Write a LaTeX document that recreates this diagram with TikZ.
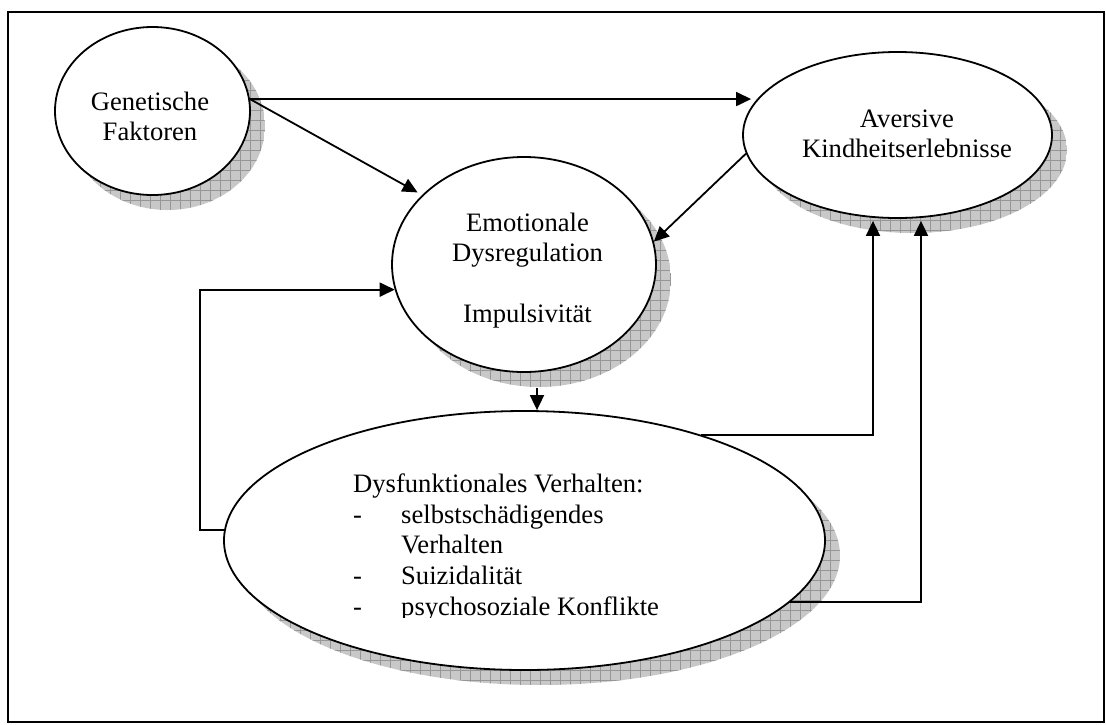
\documentclass[tikz,border=0pt]{standalone}
\usepackage{fontspec}
\setmainfont{Liberation Serif}
\usetikzlibrary{shapes.geometric,arrows.meta}

\definecolor{shadowgray}{RGB}{200,200,200}
\definecolor{gridgray}{RGB}{150,150,150}

% hatched drop shadow: centre x, centre y, x radius, y radius
\newcommand\castshadow[4]{%
  \begin{scope}
    \clip (#1+15,#2+15) ellipse [x radius=#3, y radius=#4];
    \fill[shadowgray] (#1+15-#3,#2+15-#4) rectangle (#1+15+#3,#2+15+#4);
    \draw[gridgray, line width=0.7pt, step=10pt] (#1+15-#3,#2+15-#4) grid (#1+15+#3,#2+15+#4);
  \end{scope}}

\begin{document}
\begin{tikzpicture}[x=1pt, y=-1pt,
  blob/.style={ellipse, draw, line width=1.8pt, fill=white, inner sep=0pt},
  arr/.style={line width=1.8pt, -{Triangle[length=15pt,width=14pt]}},
  lbl/.style={font=\fontsize{26.6}{30.6}\selectfont, inner sep=0pt}]
\useasboundingbox (0,0) rectangle (1106,724);

% frame
\draw[line width=1.8pt] (8,12) rectangle (1104,722);

% shadows
\castshadow{152.5}{111}{97.5}{84}
\castshadow{897.5}{135}{154.5}{83}
\castshadow{524}{264.5}{132}{107.5}
\castshadow{524.5}{540.5}{300.5}{129.5}

% ellipses
\node[blob, minimum width=195pt, minimum height=168pt] (gen) at (152.5,111) {};
\node[blob, minimum width=309pt, minimum height=166pt] (av) at (897.5,135) {};
\node[blob, minimum width=264pt, minimum height=215pt] (emo) at (524,264.5) {};
\node[blob, minimum width=601pt, minimum height=259pt] (dys) at (524.5,540.5) {};

% connectors
\draw[arr] (gen.7) -- ([xshift=9pt]gen.7 -| av.west);
\draw[arr] (gen.7) -- ([xshift=-4pt,yshift=3pt]emo.146);
\draw[arr] (av.187) -- (emo.10);
\draw[arr] ([xshift=13pt,yshift=-15pt]emo.south) -- ([xshift=13pt]emo.south |- dys.north);
\draw[arr] (dys.178) -- ++(-24,0) |- (emo.191);
\draw[arr] (dys.31) -| ([xshift=-24.5pt,yshift=-2pt]av.south);
\draw[arr] (dys.347) -| ([xshift=23.5pt,yshift=-2pt]av.south);

% texts
\node[lbl, anchor=base] (genA) at (150,110) {Genetische};
\node[lbl, anchor=base] (genB) at (150,140) {Faktoren};
\node[lbl, anchor=base] (avA) at (907,127) {Aversive};
\node[lbl, anchor=base] (avB) at (907,157) {Kindheitserlebnisse};
\node[lbl, anchor=base] (emoA) at (527.5,231) {Emotionale};
\node[lbl, anchor=base] (emoB) at (527.5,261) {Dysregulation};
\node[lbl, anchor=base] (emoC) at (527.5,322) {Impulsivität};

\node[lbl, anchor=base west] (dysA) at (353,492.7) {Dysfunktionales Verhalten:};
\node[lbl, anchor=base west] (dysD1) at (353,523.3) {-};
\node[lbl, anchor=base west] (dysB1) at (401,523.3) {selbstschädigendes};
\node[lbl, anchor=base west] (dysB2) at (401,553.9) {Verhalten};
\node[lbl, anchor=base west] (dysD2) at (353,584.5) {-};
\node[lbl, anchor=base west] (dysC) at (401,584.5) {Suizidalität};
\node[lbl, anchor=base west] (dysD3) at (353,615) {-};
\begin{scope}
  \clip (390,590) rectangle (720,617.5);
  \node[lbl, anchor=base west] (dysE) at (401,615) {psychosoziale Konflikte};
\end{scope}
\end{tikzpicture}
\end{document}
